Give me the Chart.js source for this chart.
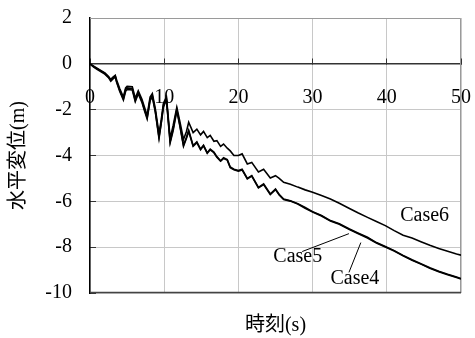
<!DOCTYPE html>
<html>
<head>
<meta charset="utf-8">
<script src="https://cdn.jsdelivr.net/npm/chart.js@4"></script>
<style>
  body { margin: 0; background: #fff; }
  #wrap { width: 475px; height: 338px; }
</style>
</head>
<body>
<div id="wrap"><canvas id="myChart"></canvas></div>
<script>
// time (s)
const time = [0, 0.5, 1, 1.5, 2, 2.5, 2.8, 3.1, 3.4, 3.6, 4.0, 4.5, 4.8, 5.0, 5.7, 6.1, 6.5, 7.0, 7.3, 7.7,
  8.1, 8.4, 8.8, 9.3, 9.6, 9.9, 10.3, 10.8, 11.2, 11.7, 12.1, 12.6, 13.0, 13.3, 13.9, 14.4, 14.9, 15.3, 15.8, 16.2,
  16.7, 17.1, 17.6, 18.0, 18.5, 18.9, 19.4, 20.0, 20.5, 21.2, 21.8, 22.7, 23.4, 24.3, 25.0, 25.5, 26.1, 27.0, 28.0, 29.0,
  30.0, 31.2, 32.4, 33.6, 34.9, 36.1, 37.4, 38.6, 39.8, 41.0, 42.2, 43.4, 44.6, 45.8, 47.0, 48.2, 49.4, 50];

// horizontal displacement (m)
const case4 = [0, -0.12, -0.22, -0.32, -0.42, -0.58, -0.72, -0.62, -0.52, -0.78, -1.15, -1.53, -1.12, -1.05, -1.08, -1.6, -1.25, -1.62, -1.95, -2.35,
  -1.55, -1.38, -2.05, -3.2, -2.55, -1.8, -1.5, -3.4, -2.85, -1.98, -2.65, -3.55, -3.2, -2.9, -3.57, -3.4, -3.72, -3.55, -3.88, -3.72,
  -3.85, -4.05, -4.23, -4.1, -4.18, -4.5, -4.6, -4.66, -4.6, -5.0, -4.88, -5.39, -5.24, -5.68, -5.46, -5.7, -5.9, -5.97, -6.1, -6.27,
  -6.45, -6.62, -6.84, -6.98, -7.2, -7.38, -7.57, -7.8, -7.97, -8.15, -8.36, -8.55, -8.72, -8.9, -9.05, -9.18, -9.3, -9.37];

const case5 = [0, -0.14, -0.25, -0.35, -0.45, -0.6, -0.76, -0.66, -0.58, -0.82, -1.2, -1.58, -1.2, -1.12, -1.14, -1.65, -1.3, -1.68, -2.0, -2.4,
  -1.6, -1.45, -2.1, -3.25, -2.6, -1.88, -1.58, -3.45, -2.92, -2.05, -2.7, -3.6, -3.25, -2.95, -3.6, -3.44, -3.75, -3.58, -3.9, -3.75,
  -3.88, -4.08, -4.25, -4.13, -4.2, -4.53, -4.62, -4.68, -4.63, -5.02, -4.9, -5.41, -5.27, -5.7, -5.49, -5.72, -5.92, -5.99, -6.12, -6.3,
  -6.47, -6.64, -6.86, -7.0, -7.22, -7.4, -7.6, -7.82, -7.99, -8.17, -8.38, -8.57, -8.74, -8.92, -9.07, -9.2, -9.32, -9.39];

const case6 = [0, -0.1, -0.2, -0.3, -0.4, -0.55, -0.68, -0.58, -0.5, -0.72, -1.08, -1.45, -1.05, -0.98, -1.0, -1.5, -1.18, -1.55, -1.85, -2.25,
  -1.45, -1.3, -1.95, -3.05, -2.45, -1.72, -1.45, -3.25, -2.7, -1.9, -2.5, -3.3, -2.95, -2.55, -3.0, -2.85, -3.1, -2.95, -3.22, -3.12,
  -3.38, -3.35, -3.6, -3.5, -3.68, -3.8, -4.0, -4.0, -3.93, -4.37, -4.3, -4.72, -4.6, -4.98, -4.88, -5.0, -5.17, -5.25, -5.38, -5.5,
  -5.6, -5.75, -5.9, -6.08, -6.3, -6.5, -6.7, -6.88, -7.06, -7.28, -7.48, -7.6, -7.76, -7.92, -8.06, -8.18, -8.3, -8.35];

const caseNames = ['Case4', 'Case5', 'Case6'];
const xTicks = [0, 10, 20, 30, 40, 50];
const yTicks = [2, 0, -2, -4, -6, -8, -10];

Chart.defaults.font.family = '"Liberation Serif", "Noto Sans CJK JP", serif';
Chart.defaults.font.size = 20;
Chart.defaults.color = '#000';

function toPoints(vals) {
  return time.map(function (t, i) { return { x: t, y: vals[i] }; });
}

// frame around plot (top/right grey, bottom dark)
const frame = {
  id: 'frame',
  beforeDatasetsDraw: function (chart) {
    const a = chart.chartArea, c = chart.ctx;
    c.save();
    c.lineWidth = 1;
    c.strokeStyle = '#9a9a9a';
    c.beginPath();
    c.moveTo(a.left, a.top + 0.5);
    c.lineTo(a.right - 0.5, a.top + 0.5);
    c.lineTo(a.right - 0.5, a.bottom);
    c.stroke();
    c.strokeStyle = '#444';
    c.lineWidth = 1.5;
    c.beginPath();
    c.moveTo(a.left, a.bottom - 0.5);
    c.lineTo(a.right, a.bottom - 0.5);
    c.stroke();
    c.restore();
  }
};

// series labels with leader lines
const caseLabels = {
  id: 'caseLabels',
  afterDatasetsDraw: function (chart) {
    const xs = chart.scales.x, ys = chart.scales.y, c = chart.ctx;
    c.save();
    c.font = '20px "Liberation Serif", serif';
    c.fillStyle = '#000';
    c.textAlign = 'center';
    c.textBaseline = 'middle';
    c.fillText(caseNames[2], xs.getPixelForValue(45.1), ys.getPixelForValue(-6.62));
    c.fillText(caseNames[1], xs.getPixelForValue(28.0), ys.getPixelForValue(-8.41));
    c.fillText(caseNames[0], xs.getPixelForValue(35.7), ys.getPixelForValue(-9.37));
    c.strokeStyle = '#000';
    c.lineWidth = 1;
    c.beginPath();
    c.moveTo(xs.getPixelForValue(28.6), ys.getPixelForValue(-8.19));
    c.lineTo(xs.getPixelForValue(34.9), ys.getPixelForValue(-7.41));
    c.moveTo(xs.getPixelForValue(34.9), ys.getPixelForValue(-9.1));
    c.lineTo(xs.getPixelForValue(36.5), ys.getPixelForValue(-7.8));
    c.stroke();
    c.restore();
  }
};

function noPadding(scale) {
  scale.paddingLeft = 0;
  scale.paddingRight = 0;
  scale.paddingTop = 0;
  scale.paddingBottom = 0;
}

const ctx = document.getElementById('myChart');

new Chart(ctx, {
  type: 'line',
  data: {
    datasets: [
      { label: caseNames[2], data: toPoints(case6), borderColor: '#000', borderWidth: 1.6, pointRadius: 0, tension: 0 },
      { label: caseNames[1], data: toPoints(case5), borderColor: '#000', borderWidth: 1.6, pointRadius: 0, tension: 0 },
      { label: caseNames[0], data: toPoints(case4), borderColor: '#000', borderWidth: 1.6, pointRadius: 0, tension: 0 }
    ]
  },
  options: {
    responsive: true,
    maintainAspectRatio: false,
    animation: false,
    layout: { padding: { top: 18, right: 14, left: 0, bottom: 0 } },
    plugins: {
      legend: { display: false },
      tooltip: { enabled: false },
      title: {
        display: true,
        position: 'bottom',
        fullSize: false,
        text: '時刻(s)',
        color: '#000',
        font: { size: 20, weight: 'normal' },
        padding: { top: 21, bottom: 0 }
      }
    },
    scales: {
      x: {
        type: 'linear',
        position: { y: 0 },
        min: 0,
        max: 50,
        afterBuildTicks: function (scale) {
          scale.ticks = xTicks.map(function (v) { return { value: v }; });
        },
        afterFit: noPadding,
        ticks: { padding: 28, maxRotation: 0, color: '#000' },
        grid: { color: '#c8c8c8', tickColor: '#333', tickLength: -6, lineWidth: 1 },
        border: { display: true, color: '#333', width: 1.5 }
      },
      y: {
        position: 'left',
        min: -10,
        max: 2,
        afterBuildTicks: function (scale) {
          scale.ticks = yTicks.map(function (v) { return { value: v }; });
        },
        afterFit: function (scale) { noPadding(scale); scale.width = 90; },
        ticks: { padding: 24, color: '#000' },
        grid: { color: '#c8c8c8', tickColor: '#333', tickLength: -6, lineWidth: 1 },
        border: { display: true, color: '#000', width: 1.5 },
        title: {
          display: true,
          text: '水平変位(m)',
          color: '#000',
          font: { size: 20 },
          padding: { top: 7, bottom: 0 }
        }
      }
    }
  },
  plugins: [frame, caseLabels]
});
</script>
</body>
</html>
